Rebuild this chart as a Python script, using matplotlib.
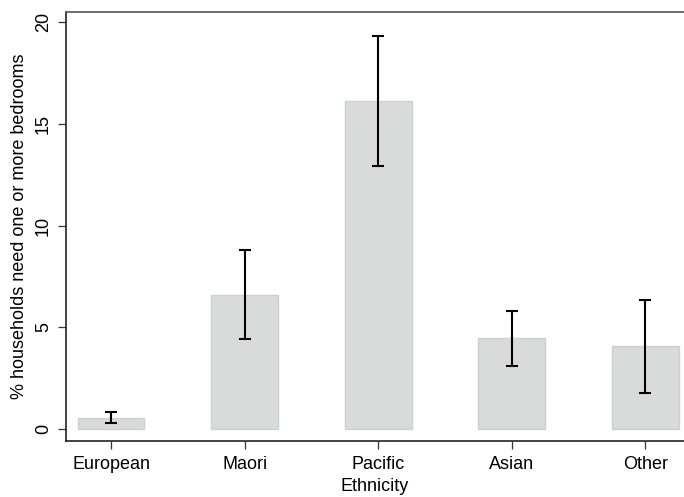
import numpy as np
import matplotlib.pyplot as plt

plt.rcParams['font.family'] = ['Liberation Sans', 'DejaVu Sans']

ethnicity = ["European", "Maori", "Pacific", "Asian", "Other"]
pct = [0.56, 6.59, 16.13, 4.46, 4.07]
ci_low = [0.28, 4.43, 12.95, 3.11, 1.79]
ci_high = [0.82, 8.80, 19.35, 5.80, 6.35]

x = np.arange(1, len(ethnicity) + 1)
err = [np.array(pct) - np.array(ci_low), np.array(ci_high) - np.array(pct)]

fig = plt.figure(figsize=(6.84, 4.97), dpi=100)
ax = fig.add_axes([0.0965, 0.1127, 0.9035, 0.8632])

ax.bar(x, pct, width=0.5, color="#d9dbda", edgecolor="#cfd1d0", linewidth=1)
ax.errorbar(x, pct, yerr=err, fmt="none", ecolor="black", elinewidth=1.5,
            capsize=4.2, capthick=1.5)

ax.set_xlim(0.663, 5.29)
ax.set_ylim(-0.59, 20.51)
ax.set_xticks(x)
ax.set_xticklabels(ethnicity)
ax.set_yticks([0, 5, 10, 15, 20])
for lab in ax.get_yticklabels():
    lab.set_rotation(90)
    lab.set_va("center")

ax.tick_params(axis="both", labelsize=13, length=6, width=0.9, color="#333333")
ax.tick_params(axis="y", pad=4)
ax.tick_params(axis="x", pad=5)

ax.set_xlabel("Ethnicity", fontsize=13, labelpad=3.5)
ax.set_ylabel("% households need one or more bedrooms", fontsize=13, labelpad=5)

ax.spines["right"].set_visible(False)
for s in ["left", "bottom"]:
    ax.spines[s].set_color("#222222")
    ax.spines[s].set_linewidth(1.2)
ax.spines["top"].set_color("#555555")
ax.spines["top"].set_linewidth(1.2)

fig.savefig("out.png", dpi=100)
